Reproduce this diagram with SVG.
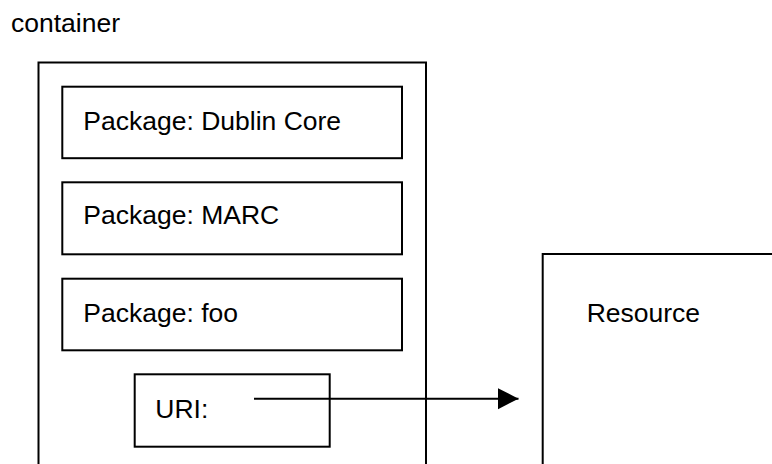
<svg xmlns="http://www.w3.org/2000/svg" width="772" height="464" viewBox="0 0 772 464">
<defs>
<style>
.box{fill:#fff;stroke:#000;stroke-width:2}
.t{font-family:"Liberation Sans",Arial,sans-serif;font-size:26.5px;fill:#000}
.ln{stroke:#000;stroke-width:2;fill:none}
</style>
<marker id="ah" markerUnits="userSpaceOnUse" markerWidth="21" markerHeight="22" refX="20.5" refY="10.5" orient="auto" viewBox="0 0 21 21">
<path d="M0,0 L20.5,10.5 L0,21 Z" fill="#000"/>
</marker>
</defs>
<rect width="772" height="464" fill="#fff"/>
<text class="t" x="11" y="32.3">container</text>
<g id="container">
<rect class="box" x="38.5" y="62.5" width="387.5" height="420"/>
</g>
<g id="pkg-dublin">
<rect class="box" x="62.3" y="86.7" width="339.7" height="71.5"/>
<text class="t" x="83.3" y="130">Package: Dublin Core</text>
</g>
<g id="pkg-marc">
<rect class="box" x="62.3" y="182.3" width="339.7" height="72"/>
<text class="t" x="83.3" y="224">Package: MARC</text>
</g>
<g id="pkg-foo">
<rect class="box" x="62.3" y="278.7" width="339.7" height="71.6"/>
<text class="t" x="83.3" y="321.7">Package: foo</text>
</g>
<g id="uri">
<rect class="box" x="134.7" y="374.3" width="195" height="72.4" style="fill:none"/>
<text class="t" x="155.3" y="418.3">URI:</text>
</g>
<g id="resource">
<rect class="box" x="542.7" y="254" width="260" height="240"/>
<text class="t" x="586.7" y="321.7">Resource</text>
</g>
<g id="connectors">
<line class="ln" x1="254" y1="398.7" x2="518.5" y2="398.7" marker-end="url(#ah)"/>
</g>
</svg>
